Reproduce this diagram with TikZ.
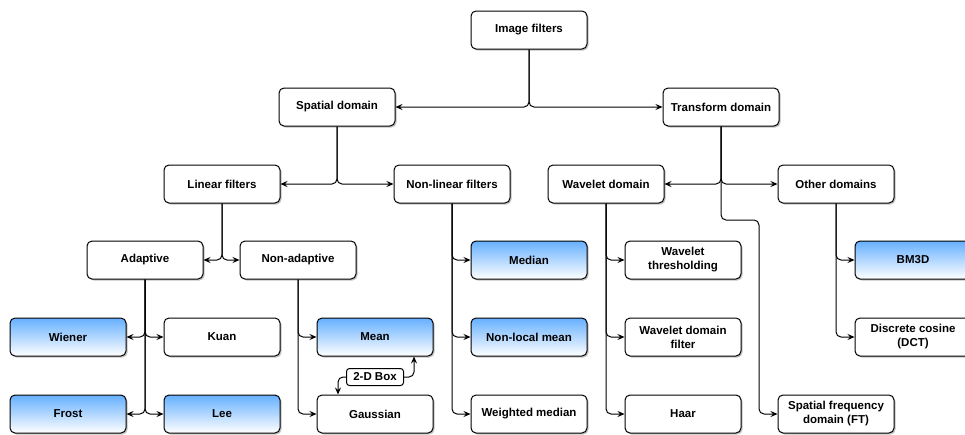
\documentclass[tikz,border=0pt]{standalone}
\usepackage{fontspec}
\setmainfont{Liberation Sans}
\usepackage{tikz}
\usetikzlibrary{arrows.meta,positioning,shadows}
\definecolor{ink}{HTML}{000000}
\definecolor{blue1}{HTML}{66B0FF}
\definecolor{shade1}{HTML}{9A9A9A}

\begin{document}
\begin{tikzpicture}[x=1pt,y=-1pt,font=\fontsize{11.5}{14}\selectfont\bfseries,
  box/.style={draw=ink,line width=1pt,rounded corners=5pt,minimum width=116pt,minimum height=38pt,align=center,inner sep=1pt,fill=white,
    drop shadow={shadow xshift=1.5pt,shadow yshift=-1.5pt,fill=shade1,opacity=0.6}},
  hbox/.style={box,top color=blue1,bottom color=white},
  tag/.style={draw=ink,line width=1pt,rounded corners=3pt,inner sep=2pt,minimum width=57pt,minimum height=17pt,fill=white},
  arr/.style={draw=ink,line width=1pt,rounded corners=5pt,-{Stealth[length=7pt,width=6pt,inset=2.5pt]}}]
  \useasboundingbox (0,0) rectangle (965,434);
  % top levels
  \node[box] (img) at (529,30) {Image filters};
  \node[box] (sp) at (337,107) {Spatial domain};
  \node[box] (tr) at (721,107) {Transform domain};
  \node[box] (lin) at (222,184) {Linear filters};
  \node[box] (nl) at (452,184) {Non-linear filters};
  \node[box] (wd) at (606,184) {Wavelet domain};
  \node[box] (od) at (836,184) {Other domains};
  \node[box] (ad) at (145,260) {Adaptive};
  \node[box] (na) at (298,260) {Non-adaptive};
  % leaves
  \node[hbox] (wi) at (68,337) {Wiener};
  \node[box] (ku) at (222,337) {Kuan};
  \node[hbox] (fr) at (68,414) {Frost};
  \node[hbox] (le) at (222,414) {Lee};
  \node[hbox] (me) at (375,337) {Mean};
  \node[box] (ga) at (375,414) {Gaussian};
  \node[hbox] (md) at (529,260) {Median};
  \node[hbox] (nlm) at (529,337) {Non-local mean};
  \node[box] (wm) at (529,414) {Weighted median};
  \node[box] (wt) at (683,260) {Wavelet\\thresholding};
  \node[box] (wf) at (683,337) {Wavelet domain\\filter};
  \node[box] (ha) at (683,414) {Haar};
  \node[box] (ft) at (836,414) {Spatial frequency\\domain (FT)};
  \node[hbox] (bm) at (913,260) {BM3D};
  \node[box] (dct) at (913,337) {Discrete cosine\\(DCT)};
  \node[tag] (b2d) at (375,377) {2-D Box};
  % connectors
  \draw[arr] (img.south) |- (sp.east); \draw[arr] (img.south) |- (tr.west);
  \draw[arr] (sp.south) |- (lin.east); \draw[arr] (sp.south) |- (nl.west);
  \draw[arr] (tr.south) |- (wd.east); \draw[arr] (tr.south) |- (od.west);
  \coordinate (ftbend) at (759,220);
  \draw[arr] (tr.south) |- (ftbend) |- (ft.west);
  \draw[arr] (lin.south) |- (ad.east); \draw[arr] (lin.south) |- (na.west);
  \foreach \t in {wi,fr} \draw[arr] (ad.south) |- (\t.east);
  \foreach \t in {ku,le} \draw[arr] (ad.south) |- (\t.west);
  \foreach \t in {me,ga} \draw[arr] (na.south) |- (\t.west);
  \foreach \t in {md,nlm,wm} \draw[arr] (nl.south) |- (\t.west);
  \foreach \t in {wt,wf,ha} \draw[arr] (wd.south) |- (\t.west);
  \foreach \t in {bm,dct} \draw[arr] (od.south) |- (\t.west);
  \draw[arr] (b2d.west) -| ([xshift=-37pt]ga.north);
  \draw[arr] (b2d.east) -| ([xshift=39pt]me.south);
\end{tikzpicture}
\end{document}
